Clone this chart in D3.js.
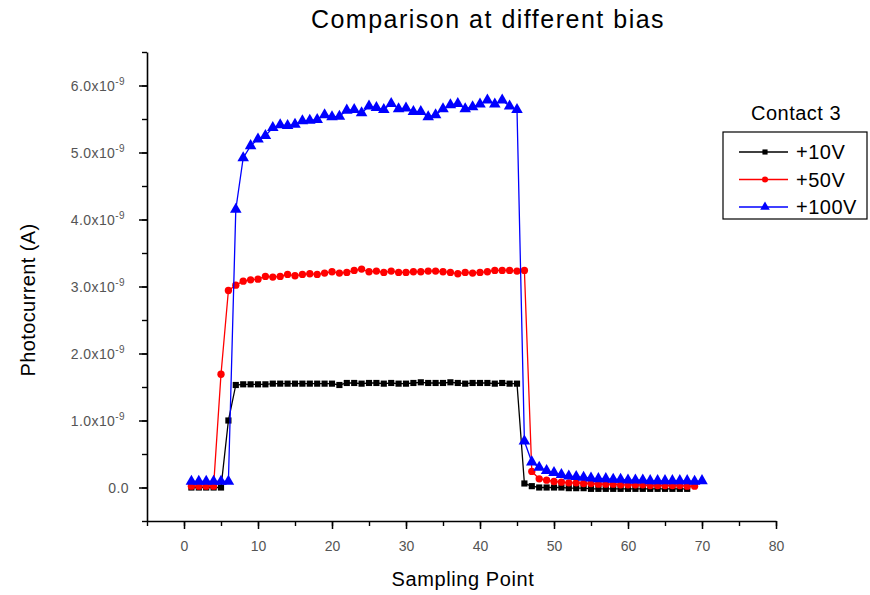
<!DOCTYPE html>
<html>
<head>
<meta charset="utf-8">
<script src="https://cdn.jsdelivr.net/npm/d3@7"></script>
<style>
  body { margin: 0; background: #fff; }
  svg { font-family: "Liberation Sans", Arial, sans-serif; }
</style>
</head>
<body>
<svg id="chart" width="870" height="595"></svg>
<script>
// photocurrent in units of 1e-9 A, sampling points start at 1
const bias10 = [0, 0, 0, 0, 0, 1.0, 1.53, 1.54, 1.54, 1.54, 1.54, 1.55, 1.55, 1.55, 1.55, 1.55, 1.55, 1.55, 1.55, 1.55, 1.53,
  1.56, 1.56, 1.55, 1.56, 1.56, 1.55, 1.56, 1.55, 1.55, 1.56, 1.57, 1.56, 1.56, 1.56, 1.57, 1.56, 1.55, 1.56, 1.56, 1.56, 1.55, 1.56, 1.55, 1.55,
  0.06, 0.02, 0.0, 0.0, 0.0, 0.0, -0.01, -0.01, -0.01, -0.02, -0.02, -0.02, -0.02, -0.02, -0.02, -0.02, -0.02, -0.02, -0.02, -0.02, -0.02, -0.02, -0.02];

const bias50 = [0.02, 0.02, 0.02, 0.02, 1.69, 2.94,
  3.02, 3.08, 3.10, 3.11, 3.15, 3.14, 3.15, 3.18, 3.16, 3.18, 3.19, 3.18, 3.20, 3.22, 3.20, 3.21, 3.24, 3.26, 3.22, 3.23, 3.21, 3.23, 3.21, 3.21,
  3.22, 3.22, 3.23, 3.23, 3.22, 3.21, 3.19, 3.21, 3.20, 3.21, 3.22, 3.24, 3.24, 3.24, 3.23, 3.24,
  0.24, 0.13, 0.11, 0.09, 0.08, 0.07, 0.07, 0.06, 0.06, 0.05, 0.05, 0.05, 0.04, 0.04, 0.04, 0.04, 0.03, 0.03, 0.03, 0.03, 0.03, 0.02, 0.02];

const bias100 = [0.09, 0.09, 0.09, 0.09, 0.09, 0.09, 4.15,
  4.92, 5.10, 5.20, 5.25, 5.37, 5.41, 5.40, 5.42, 5.47, 5.48, 5.49, 5.56, 5.53, 5.54, 5.63, 5.64, 5.59, 5.69, 5.67, 5.64, 5.73, 5.65, 5.66,
  5.61, 5.61, 5.53, 5.56, 5.65, 5.71, 5.73, 5.65, 5.68, 5.72, 5.78, 5.72, 5.78, 5.69, 5.64,
  0.69, 0.38, 0.30, 0.25, 0.22, 0.19, 0.17, 0.16, 0.15, 0.14, 0.13, 0.13, 0.12, 0.12, 0.11, 0.11, 0.11, 0.10, 0.10, 0.10, 0.10, 0.10, 0.10, 0.09, 0.10];

const seriesNames = ["+10V", "+50V", "+100V"];
const seriesColors = ["#000000", "#ff0000", "#0000ff"];
const seriesSymbols = [d3.symbolSquare, d3.symbolCircle, d3.symbolTriangle];
const seriesValues = [bias10, bias50, bias100];

const xTicks = [0, 10, 20, 30, 40, 50, 60, 70, 80];
const yTicks = [0, 1, 2, 3, 4, 5, 6];

const svg = d3.select("#chart");

const x = d3.scaleLinear().domain([-5, 80]).range([147, 776]);
const y = d3.scaleLinear().domain([-0.5, 6.5]).range([521, 52]);

// title
svg.append("text")
  .attr("x", 488).attr("y", 28)
  .attr("text-anchor", "middle")
  .attr("font-size", 25)
  .attr("letter-spacing", 1.5)
  .text("Comparison at different bias");

// x axis: minor ticks carry the axis line, major ticks in their own group
svg.append("g").attr("transform", "translate(0,521)")
  .call(d3.axisBottom(x).tickValues(d3.range(-5, 81, 5)).tickSize(5).tickSizeOuter(0).tickFormat(""))
  .call(g => g.select(".domain").attr("stroke-width", 1.6))
  .call(g => g.selectAll(".tick line").attr("stroke-width", 1.4));
svg.append("g").attr("transform", "translate(0,521)")
  .call(d3.axisBottom(x).tickValues(xTicks).tickSize(8).tickPadding(12))
  .call(g => g.select(".domain").remove())
  .call(g => g.selectAll(".tick line").attr("stroke-width", 1.5))
  .call(g => g.selectAll(".tick text").attr("font-size", 14).attr("fill", "#555")
    .attr("font-family", "Liberation Sans, Arial, sans-serif"));

// y axis
svg.append("g").attr("transform", "translate(147,0)")
  .call(d3.axisLeft(y).tickValues(d3.range(-0.5, 6.51, 0.5)).tickSize(5).tickSizeOuter(0).tickFormat(""))
  .call(g => g.select(".domain").attr("stroke-width", 1.6))
  .call(g => g.selectAll(".tick line").attr("stroke-width", 1.4));
const yAxis = svg.append("g").attr("transform", "translate(147,0)")
  .call(d3.axisLeft(y).tickValues(yTicks).tickSize(8).tickFormat(""))
  .call(g => g.select(".domain").remove())
  .call(g => g.selectAll(".tick line").attr("stroke-width", 1.5));

yTicks.forEach(v => {
  const t = yAxis.append("text")
    .attr("x", v === 0 ? -18 : -22).attr("y", y(v) + 5)
    .attr("text-anchor", "end")
    .attr("font-size", 14)
    .attr("letter-spacing", 0.4)
    .attr("fill", "#555");
  if (v === 0) {
    t.text("0.0");
  } else {
    t.append("tspan").text(v.toFixed(1) + "x10");
    t.append("tspan").attr("dy", -6).attr("font-size", 10).text("-9");
  }
});

// axis titles
svg.append("text")
  .attr("transform", "translate(35,300) rotate(-90)")
  .attr("text-anchor", "middle")
  .attr("font-size", 20)
  .attr("letter-spacing", 0.4)
  .text("Photocurrent (A)");

svg.append("text")
  .attr("x", 463).attr("y", 586)
  .attr("text-anchor", "middle")
  .attr("font-size", 20)
  .attr("letter-spacing", 0.6)
  .text("Sampling Point");

// series
const line = d3.line().x((d, i) => x(i + 1)).y(d => y(d));
const symbolSizes = [38, 42, 58];

seriesValues.forEach((vals, s) => {
  svg.append("path")
    .datum(vals)
    .attr("fill", "none")
    .attr("stroke", seriesColors[s])
    .attr("stroke-width", 1.3)
    .attr("d", line);
  svg.append("g").selectAll("path")
    .data(vals)
    .enter()
    .append("path")
    .attr("transform", (d, i) => `translate(${x(i + 1)},${y(d)})`)
    .attr("d", d3.symbol().type(seriesSymbols[s]).size(symbolSizes[s]))
    .attr("fill", seriesColors[s]);
});

// legend
svg.append("text")
  .attr("x", 796).attr("y", 120)
  .attr("text-anchor", "middle")
  .attr("font-size", 20)
  .attr("letter-spacing", 0.5)
  .text("Contact 3");

const legend = svg.append("g");
legend.append("rect")
  .attr("x", 723).attr("y", 132)
  .attr("width", 144).attr("height", 87)
  .attr("fill", "none").attr("stroke", "#000").attr("stroke-width", 1.2);

seriesNames.forEach((name, s) => {
  const ly = 152 + s * 27.5;
  legend.append("line")
    .attr("x1", 739).attr("x2", 788).attr("y1", ly).attr("y2", ly)
    .attr("stroke", seriesColors[s]).attr("stroke-width", 1.3);
  legend.append("path")
    .attr("transform", `translate(765,${ly})`)
    .attr("d", d3.symbol().type(seriesSymbols[s]).size(symbolSizes[s] * 0.7))
    .attr("fill", seriesColors[s]);
  legend.append("text")
    .attr("x", 796).attr("y", ly + 7)
    .attr("font-size", 20)
    .attr("letter-spacing", 0.5)
    .text(name);
});
</script>
</body>
</html>
